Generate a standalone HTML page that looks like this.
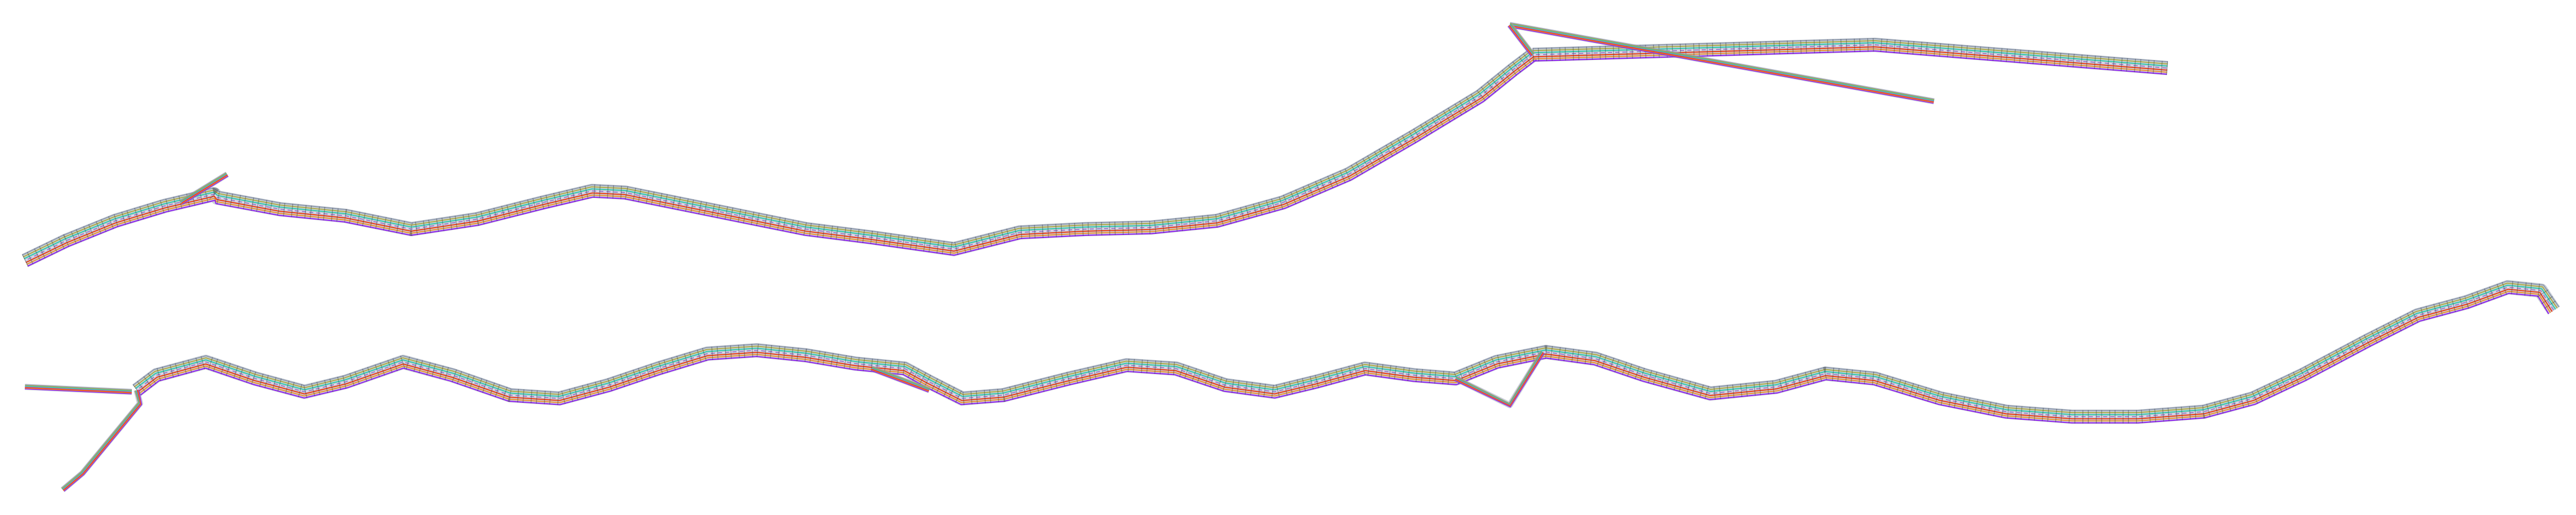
<!DOCTYPE html>
<html><head><meta charset="utf-8"><style>
html,body{margin:0;padding:0;background:#fff;}
svg{display:block;}
</style></head><body>
<svg id="map" width="5055" height="1000" viewBox="0 0 5055 1000" xmlns="http://www.w3.org/2000/svg"></svg>
<script>
// centerline points (in 1568-wide preview units, scaled to full)
const roadTopMain = [[15,157],[40,145],[70,133],[100,124],[130,117],[132,119],[170,126],[210,130],[250,138],[290,132],[330,122],[360,115],[380,116],[410,122],[450,130],[490,138],[530,143],[580,150],[620,140],[660,138],[700,137],[740,133],[780,122],[820,105],[860,82],[900,58],[920,42],[932,33]];
const roadTopEast = [[932,33],[1140,27],[1318,41]];
const roadTopDiag = [[918,15],[1176,61]];
const roadTopLink = [[918,15],[932,33]];
const roadTopSpur = [[110,122],[138,105]];
const roadBottomMain = [[83,235],[95,226],[125,218],[155,228],[185,236],[210,230],[245,218],[275,226],[310,238],[340,240],[370,232],[400,222],[430,213],[460,211],[490,214],[520,219],[550,222],[565,230],[585,240],[610,238],[650,228],[685,220],[715,222],[745,232],[775,236],[800,230],[830,222],[860,226],[885,228],[910,218],[940,212],[970,216],[1000,226],[1040,237],[1080,233],[1110,225],[1140,228],[1180,240],[1220,248],[1260,251],[1300,251],[1340,248],[1370,240],[1400,226],[1440,205],[1470,190],[1500,182],[1525,173],[1545,175],[1553,187]];
const roadBottomWest = [[15,233],[80,236]];
const roadBottomSouth = [[38,295],[50,285],[85,243],[83,235]];
const roadBottomTriangle = [[885,228],[918,244],[938,212]];
const roadBottomSpur = [[530,222],[565,235]];

const S = 5055/1568;
const KX = 0.99;
const svg = document.getElementById('map');
const NS = 'http://www.w3.org/2000/svg';
const laneColors = ['#8a96a8','#a8a838','#20c8a8','#9a78c8','#f02a00','#f08a20','#8a10f0'];

function offsetPts(pts, d){
  const P = pts.map(p=>[(15+(p[0]-15)*KX)*S,p[1]*S]);
  return P.map((p,i)=>{
    const a = P[Math.max(0,i-1)], b = P[Math.min(P.length-1,i+1)];
    let dx=b[0]-a[0], dy=b[1]-a[1]; const L=Math.hypot(dx,dy)||1;
    return [(p[0]-dy/L*d).toFixed(1),(p[1]+dx/L*d).toFixed(1)].join(',');
  }).join(' ');
}
function line(pts, d, color, w, op, dash, name){
  const el = document.createElementNS(NS,'polyline');
  el.setAttribute('points', offsetPts(pts,d));
  el.setAttribute('fill','none');
  el.setAttribute('stroke',color);
  el.setAttribute('stroke-width',w);
  el.setAttribute('stroke-opacity',op);
  el.setAttribute('stroke-linejoin','round');
  if(dash) el.setAttribute('stroke-dasharray',dash);
  
  
  svg.appendChild(el);
}
function road(pts, name, wide){
  const half = wide ? 12 : 4;
  line(pts,0,'#9aa4b4',half*2+4,0.5,null,name+'-band');
  const n = laneColors.length;
  for(let i=0;i<n;i++){
    const d = -half + (2*half)*i/(n-1);
    line(pts,d,laneColors[i],wide?2.2:1.6,0.9,null,name+'-lane-'+i);
  }
  if(wide){
    line(pts,0,'#ffffff',1.5,0.9,'6 8',name+'-centerline');
    line(pts,0,'#3a4048',half*2+2,0.45,'1.5 9 1.5 14',name+'-ticks');
  }
}
road(roadTopMain,'top-main-road',true);
road(roadTopEast,'top-east-road',true);
road(roadTopDiag,'top-diagonal-road',false);
road(roadTopLink,'top-link-road',false);
road(roadTopSpur,'top-spur-road',false);
road(roadBottomMain,'bottom-main-road',true);
road(roadBottomWest,'bottom-west-road',false);
road(roadBottomSouth,'bottom-south-road',false);
road(roadBottomTriangle,'bottom-triangle-road',false);
road(roadBottomSpur,'bottom-spur-road',false);
</script>
</body></html>
